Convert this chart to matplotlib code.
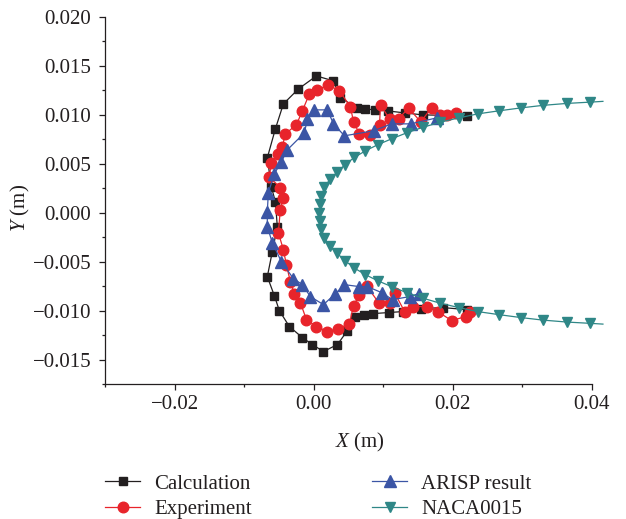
import matplotlib
matplotlib.use("Agg")
import matplotlib.pyplot as plt
from matplotlib.ticker import MultipleLocator, FuncFormatter

plt.rcParams['font.family'] = ['Liberation Serif', 'DejaVu Serif']
plt.rcParams['mathtext.fontset'] = 'custom'
plt.rcParams['mathtext.rm'] = 'Liberation Serif'
plt.rcParams['mathtext.it'] = 'Liberation Serif:italic'
plt.rcParams['axes.unicode_minus'] = True

# Calculated bubble outline (m)
calc_x = [0.02199, 0.01565, 0.01306, 0.01061, 0.00874, 0.00744, 0.00629, 0.00384,
          0.00284, 0.00039, -0.00220, -0.00436, -0.00551, -0.00667, -0.00609, -0.00551,
          -0.00523, -0.00595, -0.00667, -0.00566, -0.00494, -0.00350, -0.00163, -0.00019,
          0.00140, 0.00341, 0.00485, 0.00600, 0.00716, 0.00845, 0.01076, 0.01277,
          0.01536, 0.01853, 0.02199]
calc_y = [0.00990, 0.01000, 0.01020, 0.01041, 0.01051, 0.01061, 0.01071, 0.01173,
          0.01347, 0.01398, 0.01265, 0.01112, 0.00857, 0.00561, 0.00265, 0.00112,
          -0.00143, -0.00398, -0.00653, -0.00847, -0.01000, -0.01163, -0.01276, -0.01347,
          -0.01418, -0.01347, -0.01204, -0.01061, -0.01041, -0.01031, -0.01020, -0.01010,
          -0.00980, -0.00969, -0.00990]

# Measured bubble outline (m)
exp_x = [0.02040, 0.01911, 0.01810, 0.01695, 0.01536, 0.01364, 0.01220, 0.01090,
         0.00960, 0.00946, 0.00816, 0.00658, 0.00572, 0.00528, 0.00370, 0.00212,
         0.00053, -0.00062, -0.00163, -0.00249, -0.00408, -0.00451, -0.00508, -0.00609,
         -0.00638, -0.00480, -0.00436, -0.00480, -0.00508, -0.00436, -0.00393, -0.00336,
         -0.00278, -0.00192, -0.00105, 0.00039, 0.00197, 0.00356, 0.00514, 0.00572,
         0.00658, 0.00759, 0.00932, 0.01090, 0.01162, 0.01306, 0.01421, 0.01623,
         0.01781, 0.01983, 0.02184, 0.02242]
exp_y = [0.01020, 0.01000, 0.01000, 0.01071, 0.00929, 0.01071, 0.00959, 0.00959,
         0.01102, 0.00898, 0.00796, 0.00806, 0.00929, 0.01082, 0.01245, 0.01306,
         0.01255, 0.01214, 0.01041, 0.00898, 0.00806, 0.00673, 0.00602, 0.00510,
         0.00367, 0.00255, 0.00153, 0.00031, -0.00204, -0.00378, -0.00531, -0.00704,
         -0.00827, -0.00918, -0.01092, -0.01163, -0.01214, -0.01184, -0.01133, -0.00949,
         -0.00837, -0.00745, -0.00918, -0.00918, -0.00816, -0.01010, -0.00959, -0.00959,
         -0.01010, -0.01102, -0.01061, -0.01010]

# ARISP result (m)
arisp_x = [0.01767, 0.01392, 0.01119, 0.00860, 0.00442, 0.00284, 0.00197, 0.00010,
           -0.00091, -0.00134, -0.00379, -0.00465, -0.00566, -0.00652, -0.00667, -0.00667,
           -0.00595, -0.00465, -0.00292, -0.00163, -0.00048, 0.00140, 0.00312, 0.00442,
           0.00658, 0.00773, 0.00975, 0.01133, 0.01378, 0.01508]
arisp_y = [0.00969, 0.00908, 0.00908, 0.00837, 0.00786, 0.00908, 0.01051, 0.01051,
           0.00959, 0.00816, 0.00643, 0.00520, 0.00398, 0.00204, 0.00010, -0.00143,
           -0.00306, -0.00500, -0.00673, -0.00735, -0.00857, -0.00939, -0.00827, -0.00735,
           -0.00755, -0.00755, -0.00816, -0.00888, -0.00857, -0.00827]

# NACA0015 hydrofoil section: leading edge, then stations along the chord (m)
naca_le_x = 0.00075
naca_x = [0.00089, 0.00111, 0.00154, 0.00233, 0.00334, 0.00449, 0.00586, 0.00744,
          0.00917, 0.01119, 0.01335, 0.01565, 0.01810, 0.02084, 0.02357, 0.02659,
          0.02976, 0.03293, 0.03639, 0.03970, 0.04157]
naca_half = [0.00087, 0.00168, 0.00260, 0.00342, 0.00413, 0.00490, 0.00566, 0.00633,
             0.00694, 0.00755, 0.00816, 0.00872, 0.00923, 0.00969, 0.01010, 0.01041,
             0.01071, 0.01097, 0.01117, 0.01130, 0.01138]

foil_x = naca_x[::-1] + [naca_le_x] + naca_x
foil_y = [h for h in naca_half[::-1]] + [0.0] + [-h for h in naca_half]

c_black = '#231f20'
c_red = '#e8242b'
c_blue = '#3b55a5'
c_teal = '#2f8787'
fs = 15

fig = plt.figure(figsize=(6.26, 5.19), dpi=100)
ax = fig.add_axes([105 / 626, 1 - 384 / 519, (592 - 105) / 626, (384 - 17) / 519])

ax.plot(calc_x, calc_y, color=c_black, lw=0.9, marker='s', ms=6.0,
        mfc=c_black, mec=c_black, label='Calculation')
ax.plot(exp_x, exp_y, color=c_red, lw=0.9, marker='o', ms=7.6,
        mfc=c_red, mec=c_red, label='Experiment')
ax.plot(arisp_x, arisp_y, color=c_blue, lw=0.9, marker='^', ms=8.2,
        mfc=c_blue, mec=c_blue, label='ARISP result')
ax.plot(foil_x, foil_y, color=c_teal, lw=0.9, marker='v', ms=6.8,
        mfc=c_teal, mec=c_teal, markevery=slice(1, len(foil_x) - 1),
        clip_on=False, label='NACA0015')

ax.set_xlim(-0.03, 0.04)
ax.set_ylim(-0.0175, 0.020)

for side in ('top', 'right'):
    ax.spines[side].set_visible(False)
for side in ('left', 'bottom'):
    ax.spines[side].set_linewidth(0.9)
    ax.spines[side].set_color(c_black)

ax.xaxis.set_major_locator(MultipleLocator(0.02))
ax.xaxis.set_minor_locator(MultipleLocator(0.01))
ax.yaxis.set_major_locator(MultipleLocator(0.005))
ax.yaxis.set_minor_locator(MultipleLocator(0.0025))


def fmt(decimals):
    return FuncFormatter(lambda v, pos: f"{v:.{decimals}f}".replace('-', '\u2212')
                         if abs(v) > 1e-12 else f"{0:.{decimals}f}")


ax.xaxis.set_major_formatter(fmt(2))
ax.yaxis.set_major_formatter(fmt(3))

ax.tick_params(which='major', direction='out', length=4, width=0.9,
               labelsize=fs, color=c_black, labelcolor=c_black)
ax.tick_params(which='minor', direction='out', length=2.5, width=0.9, color=c_black)
ax.tick_params(axis='x', which='major', pad=4)
ax.tick_params(axis='y', which='major', pad=6)

ax.set_xlabel(r'$X$ (m)', fontsize=fs, color=c_black)
ax.set_ylabel(r'$Y$ (m)', fontsize=fs, color=c_black)
ax.xaxis.set_label_coords(0.524, -0.128)
ax.yaxis.set_label_coords(-0.150, 0.48)

handles, labels = ax.get_legend_handles_labels()
leg_kw = dict(frameon=False, fontsize=fs, handlelength=1.7, handletextpad=0.65,
              labelspacing=0.3, borderpad=0, borderaxespad=0, numpoints=1,
              loc='upper left')
leg1 = fig.legend(handles[:2], labels[:2], bbox_to_anchor=(105 / 626, 1 - 474 / 519), **leg_kw)
leg2 = fig.legend(handles[2:], labels[2:], bbox_to_anchor=(372 / 626, 1 - 474 / 519), **leg_kw)
for leg in (leg1, leg2):
    for t in leg.get_texts():
        t.set_color(c_black)

fig.savefig('out.png', dpi=100)
